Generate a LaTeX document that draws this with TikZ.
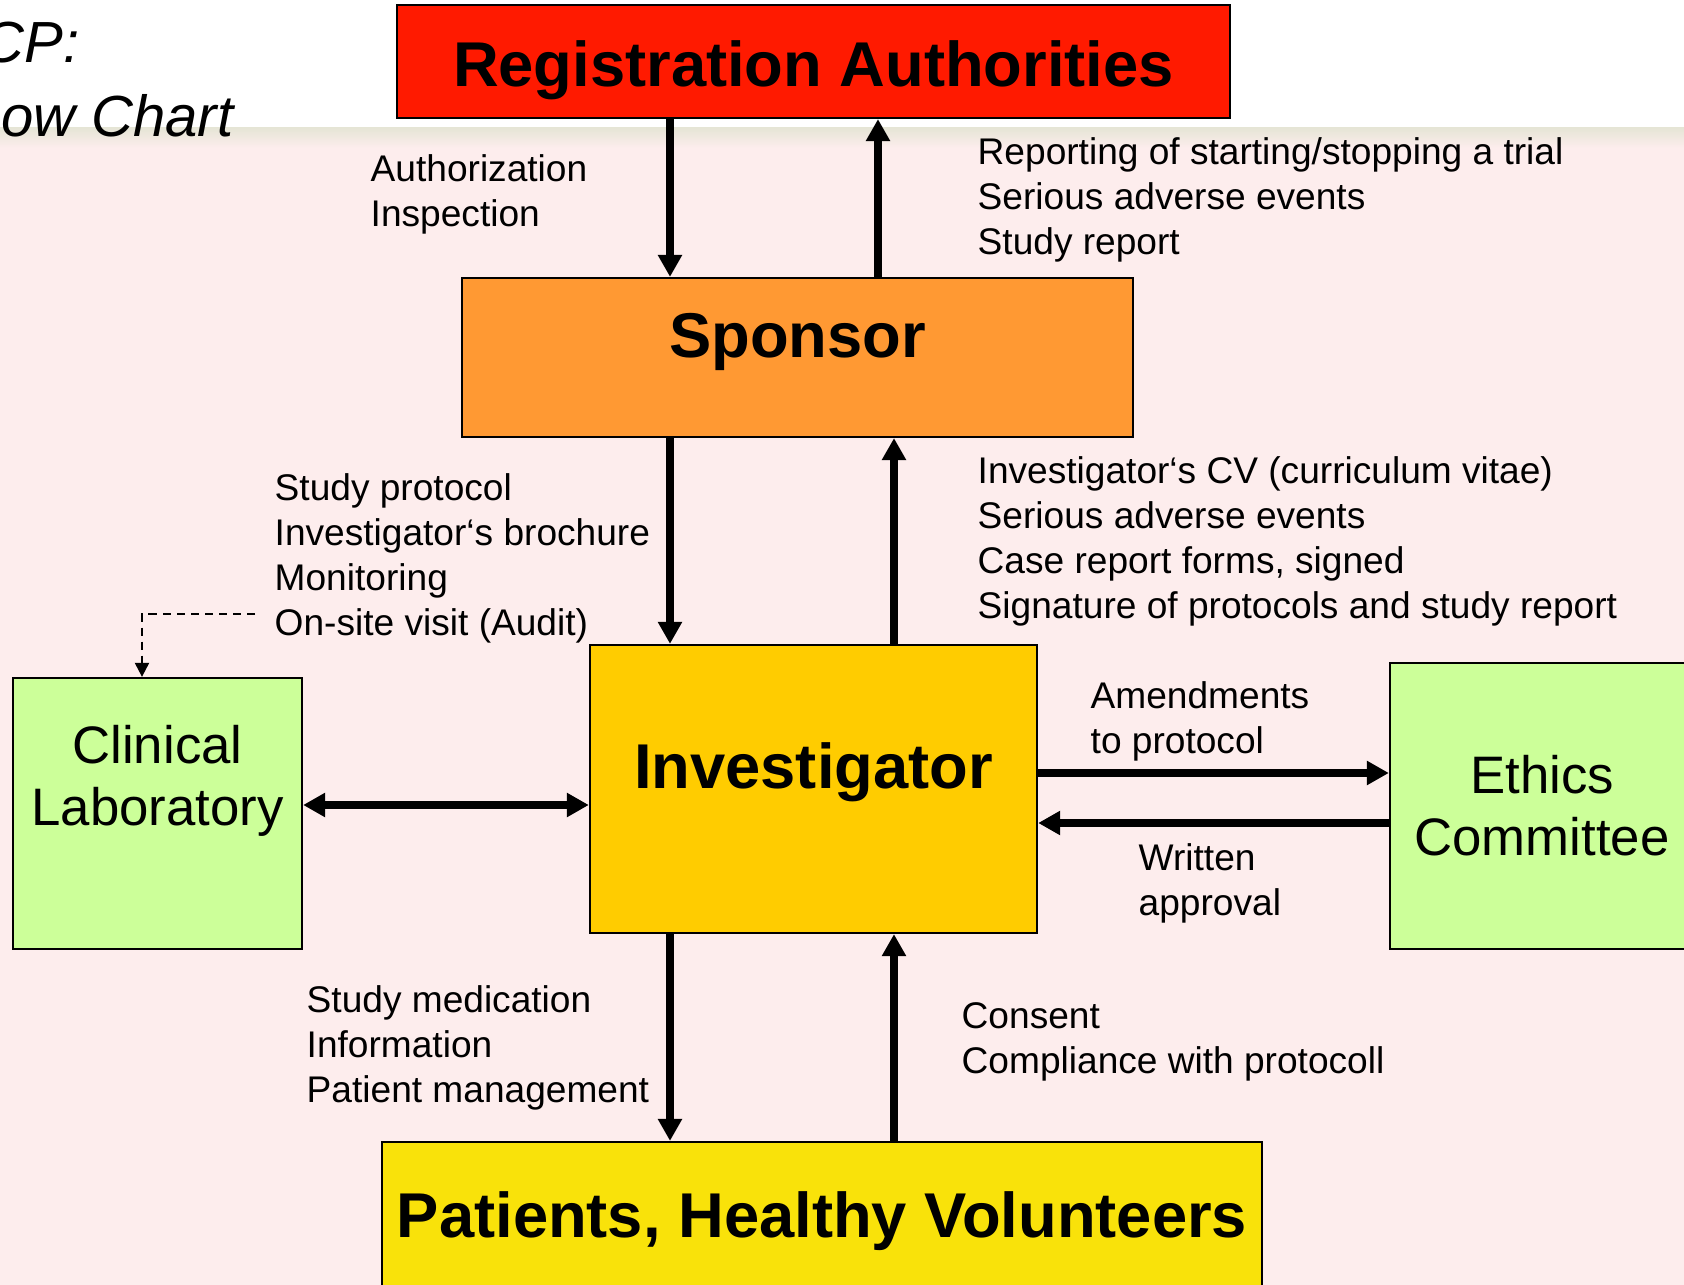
\documentclass[tikz,border=0pt]{standalone}
\usepackage{fontspec}
\setmainfont{Liberation Sans}
\usetikzlibrary{arrows.meta}

\definecolor{regred}{RGB}{255,26,0}
\definecolor{sponorange}{RGB}{255,153,51}
\definecolor{invgold}{RGB}{255,204,0}
\definecolor{labgreen}{RGB}{204,255,153}
\definecolor{patyellow}{RGB}{249,226,10}
\definecolor{bgpink}{RGB}{253,237,237}
\definecolor{bandolive}{RGB}{230,229,214}

\tikzset{
  box/.style={draw=black, line width=0.6pt, rectangle, inner sep=0pt, align=center},
  bigtext/.style={font=\fontsize{18}{21.6}\selectfont\bfseries},
  midtext/.style={font=\fontsize{15}{17.6}\selectfont},
  note/.style={inner sep=0pt, anchor=west, align=left, font=\fontsize{10.55}{12.8}\selectfont},
  flow/.style={line width=0.075cm, -{Triangle[length=0.22cm,width=0.23cm]}},
  flowboth/.style={line width=0.075cm, {Triangle[length=0.22cm,width=0.23cm]}-{Triangle[length=0.22cm,width=0.23cm]}},
  audit/.style={line width=0.6pt, dash pattern=on 2.3pt off 1.7pt, -{Triangle[length=0.14cm,width=0.14cm]}},
}

\begin{document}
\begin{tikzpicture}[x=0.01cm,y=-0.01cm]
\clip (0,0) rectangle (1684,1285);

% background
\fill[bgpink] (0,0) rectangle (1684,1285);
\fill[white] (0,0) rectangle (1684,128);
\shade[top color=bandolive, bottom color=bgpink] (0,128) rectangle (1684,148);

% title (cut off at the left)
\node[anchor=east, inner sep=0pt, font=\fontsize{16.5}{19}\selectfont\itshape] (title1) at (80,43) {CP:};
\node[anchor=east, inner sep=0pt, font=\fontsize{16.5}{19}\selectfont\itshape] (title2) at (234,116) {ow Chart};

% boxes
\node[box, bigtext, fill=regred, minimum width=8.33cm, minimum height=1.13cm, text height=18pt] (reg) at (813.5,61.5) {Registration Authorities};
\node[box, bigtext, fill=sponorange, minimum width=6.71cm, minimum height=1.59cm, text depth=12.4pt] (spon) at (797.5,357.5) {Sponsor};
\node[box, bigtext, fill=invgold, minimum width=4.47cm, minimum height=2.88cm, text depth=13.1pt] (inv) at (813.5,789) {Investigator};
\node[box, midtext, fill=labgreen, minimum width=2.89cm, minimum height=2.71cm, text depth=21.8pt] (lab) at (157.5,813.5) {Clinical\\Laboratory};
\node[box, midtext, fill=labgreen, minimum width=3.04cm, minimum height=2.86cm] (eth) at (1542,806) {Ethics\\Committee};
\node[box, bigtext, fill=patyellow, minimum width=8.80cm, minimum height=1.50cm, text height=15.5pt] (pat) at (822,1217) {Patients, Healthy Volunteers};

% columns and rows of the arrows
\coordinate (down) at (670,0);
\coordinate (uptop) at (878,0);
\coordinate (up) at (894,0);
\coordinate (labrow) at (0,805);
\coordinate (ethout) at (0,773);
\coordinate (ethin) at (0,823);
\coordinate (labx) at (142,0);
\coordinate (audit) at (255,614);

% vertical arrows
\draw[flow] (reg.south -| down) -- (spon.north -| down);
\draw[flow] (spon.north -| uptop) -- (reg.south -| uptop);
\draw[flow] (spon.south -| down) -- (inv.north -| down);
\draw[flow] (inv.north -| up) -- (spon.south -| up);
\draw[flow] (inv.south -| down) -- (pat.north -| down);
\draw[flow] (pat.north -| up) -- (inv.south -| up);

% horizontal arrows
\draw[flowboth] (lab.east |- labrow) -- (inv.west |- labrow);
\draw[flow] (inv.east |- ethout) -- (eth.west |- ethout);
\draw[flow] (eth.west |- ethin) -- (inv.east |- ethin);
\draw[audit] (audit) -| (labx |- lab.north);

% labels
\node[note] (authtext) at (370,194) {Authorization\\Inspection};
\node[note] (reporttext) at (977,200) {Reporting of starting/stopping a trial\\Serious adverse events\\Study report};
\node[note] (protocoltext) at (274,558) {Study protocol\\Investigator‘s brochure\\Monitoring\\On-site visit (Audit)};
\node[note] (cvtext) at (977,541.5) {Investigator‘s CV (curriculum vitae)\\Serious adverse events\\Case report forms, signed\\Signature of protocols and study report};
\node[note] (amendtext) at (1090,721.5) {Amendments\\to protocol};
\node[note] (approvaltext) at (1138,883) {Written\\approval};
\node[note] (medtext) at (306,1048) {Study medication\\Information\\Patient management};
\node[note] (consenttext) at (961,1042) {Consent\\Compliance with protocoll};

\end{tikzpicture}
\end{document}
